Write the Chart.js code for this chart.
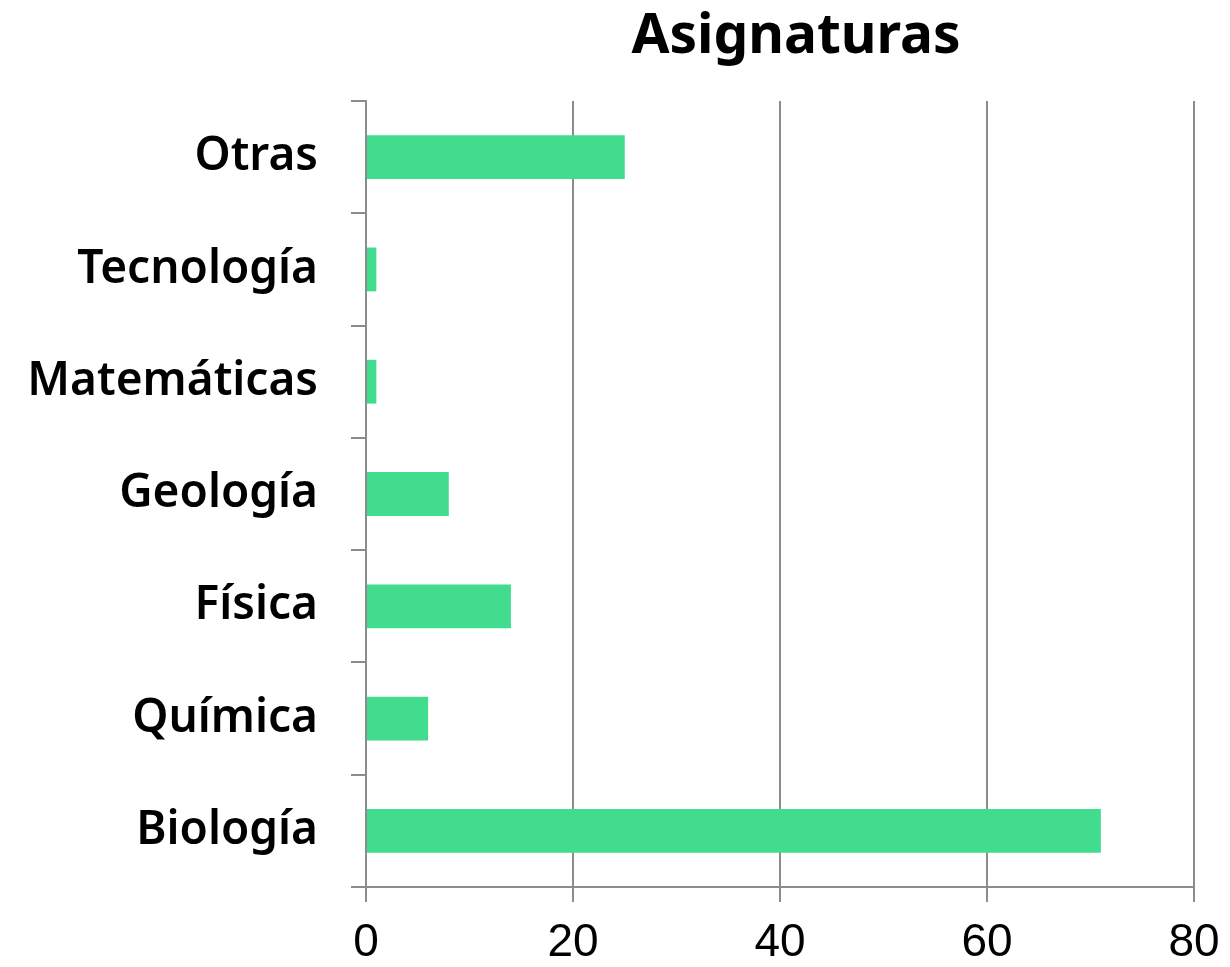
<!DOCTYPE html>
<html>
<head>
<meta charset="utf-8">
<script src="https://cdn.jsdelivr.net/npm/chart.js@4/dist/chart.umd.min.js"></script>
<style>
html,body{margin:0;padding:0;background:#fff;}
#wrap{width:1230px;height:967px;position:relative;}
</style>
</head>
<body>
<div id="wrap"><canvas id="c"></canvas></div>
<script>
const categories = ["Otras", "Tecnología", "Matemáticas", "Geología", "Física", "Química", "Biología"];
const values = [25, 1, 1, 8, 14, 6, 71];
const xTicks = [0, 20, 40, 60, 80];
const titleText = "Asignaturas";

const gridGray = "#8c8c8c";

const titleShift = {
  id: "titleShift",
  afterLayout(chart) {
    const t = chart.titleBlock;
    if (t) { t.left += 16; t.right += 16; }
  }
};

function draw() {
  new Chart(document.getElementById("c"), {
    type: "bar",
    data: {
      labels: categories,
      datasets: [{
        data: values,
        backgroundColor: "#41dc8e",
        borderWidth: 0,
        categoryPercentage: 1,
        barPercentage: 0.39
      }]
    },
    plugins: [titleShift],
    options: {
      indexAxis: "y",
      responsive: true,
      maintainAspectRatio: false,
      animation: false,
      layout: { padding: 0 },
      plugins: {
        legend: { display: false },
        tooltip: { enabled: false },
        title: {
          display: true,
          text: titleText,
          fullSize: false,
          color: "#000",
          font: { family: "'Noto Sans'", size: 55, weight: "bold" },
          padding: { top: 4, bottom: 31 }
        }
      },
      scales: {
        x: {
          min: xTicks[0],
          max: xTicks[xTicks.length - 1],
          afterBuildTicks: (axis) => { axis.ticks = xTicks.map(v => ({ value: v })); },
          afterFit: (scale) => { scale.height = 80; scale.paddingRight = 36; scale.paddingLeft = 0; },
          grid: { color: gridGray, lineWidth: 2, tickLength: 15, drawTicks: true },
          border: { color: gridGray, width: 2 },
          ticks: {
            color: "#000",
            font: { family: "'Liberation Sans', Arial", size: 46, lineHeight: 1 },
            padding: 18,
            maxRotation: 0
          }
        },
        y: {
          afterFit: (scale) => { scale.width = 366; },
          grid: { offset: true, drawOnChartArea: false, color: gridGray, lineWidth: 2, tickLength: 15 },
          border: { color: gridGray, width: 2 },
          ticks: {
            color: "#000",
            font: { family: "'Noto Sans'", size: 46, weight: 600 },
            padding: 33
          }
        }
      }
    }
  });
}

Promise.all([
  document.fonts.load("600 46px 'Noto Sans'"),
  document.fonts.load("bold 55px 'Noto Sans'"),
  document.fonts.load("46px 'Liberation Sans'")
]).then(draw, draw);
</script>
</body>
</html>
